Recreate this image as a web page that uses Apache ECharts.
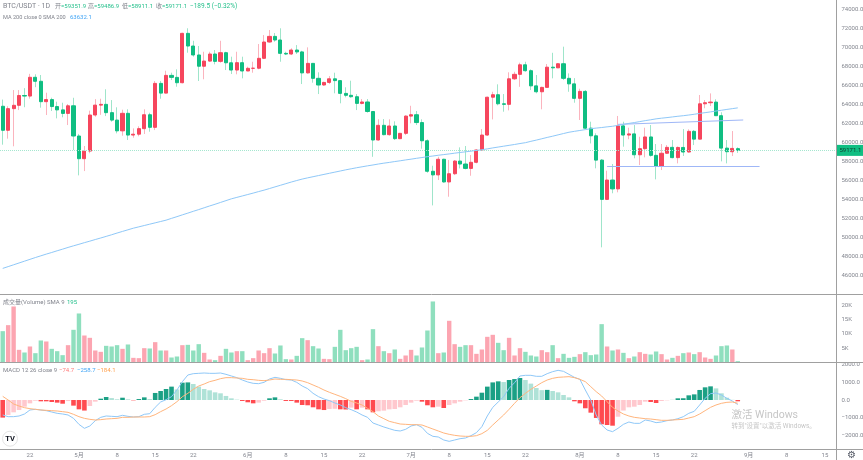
<!DOCTYPE html>
<html>
<head>
<meta charset="utf-8">
<title>BTC/USDT 1D</title>
<script src="https://cdn.jsdelivr.net/npm/echarts@6/dist/echarts.min.js"></script>
<style>
html, body { margin: 0; padding: 0; background: #fff; }
#main { width: 863px; height: 460px; filter: blur(0.35px); }
</style>
</head>
<body>
<div id="main"></div>
<script>
// days on the time axis, first of a month carries the month name
var categories = [
	'17','18','19','20','21','22','23','24','25','26','27','28','29','30',
	'5月','2','3','4','5','6','7','8','9','10','11','12','13','14','15','16','17','18','19','20','21','22','23','24','25','26','27','28','29','30','31',
	'6月','2','3','4','5','6','7','8','9','10','11','12','13','14','15','16','17','18','19','20','21','22','23','24','25','26','27','28','29','30',
	'7月','2','3','4','5','6','7','8','9','10','11','12','13','14','15','16','17','18','19','20','21','22','23','24','25','26','27','28','29','30','31',
	'8月','2','3','4','5','6','7','8','9','10','11','12','13','14','15','16','17','18','19','20','21','22','23','24','25','26','27','28','29','30','31',
	'9月','2','3','4','5','6','7','8','9','10','11','12','13','14','15','16','17'
];
var timeTicks = ['8', '15', '22', '5月', '6月', '7月', '8月', '9月'];

var opens = [
	63800,61280,63550,63900,64930,64870,66840,66420,64280,64500,
	63770,63420,63050,63850,60680,58300,59100,62880,63920,64000,
	63130,62350,61220,63060,60780,60870,61450,62910,61590,66200,
	65180,67040,66830,66270,71450,70120,69180,68000,68540,69280,
	68510,69420,68360,67600,68370,67500,67780,67790,68830,70540,
	71130,70750,69350,69280,69700,69500,67300,68300,66730,66030,
	66300,66680,66490,65150,64950,64800,64100,64250,63250,60260,
	61800,60820,61730,60400,60960,62770,62910,62090,60180,56980,
	56600,58240,55860,56720,58050,57740,57280,57920,59210,60780,
	64750,65010,64060,64000,66680,67150,68150,67530,65940,65320,
	65780,67900,67830,68260,66730,66150,64630,65360,61500,60700,
	58150,54030,56060,55130,61740,60780,60900,58710,59350,60580,
	58650,57530,58870,59490,58410,59480,59000,61170,60350,64060,
	64170,64240,62810,59410,59030,59351.9
];
var closes = [
	61280,63550,63900,64930,64870,66840,66420,64280,64500,63770,
	63420,63050,63850,60680,58300,59100,62880,63920,64000,63130,
	62350,61220,63060,60780,60870,61450,62910,61590,66200,65180,
	67040,66830,66270,71450,70120,69180,68000,68540,69280,68510,
	69420,68360,67600,68370,67500,67780,67790,68830,70540,71130,
	70750,69350,69280,69700,69500,67300,68300,66730,66030,66300,
	66680,66490,65150,64950,64800,64100,64250,63250,60260,61800,
	60820,61730,60400,60960,62770,62910,62090,60180,56980,56600,
	58240,55860,56720,58050,57740,57280,57920,59210,60780,64750,
	65010,64060,64000,66680,67150,68150,67530,65940,65320,65780,
	67900,67830,68260,66730,66150,64630,65360,61500,60700,58150,
	54030,56060,55130,61740,60780,60900,58710,59350,60580,58650,
	57530,58870,59490,58410,59480,59000,61170,60350,64060,64170,
	64240,62810,59410,59030,59380,59171.1
];
var lows = [
	59770,60400,59600,63400,63700,64600,65800,63650,62880,63300,
	62530,62640,61830,59210,56550,57000,58870,62700,62900,62770,
	62180,60960,60710,60260,60500,60650,60890,61130,61300,64590,
	65160,66550,65850,66200,69420,69000,66450,66630,68470,68200,
	68370,67600,67180,67150,66730,67490,67320,67680,68750,70460,
	70570,68470,69170,69170,69280,66130,67230,66270,65080,65950,
	66130,65160,64110,64740,64690,63400,64000,63120,58500,60190,
	60750,60710,60260,60350,60780,62010,61830,59350,56820,53400,
	56060,55780,54310,56580,57280,57180,56510,57810,59160,60710,
	62420,63900,63230,63370,66550,65840,67420,65500,65160,63480,
	65780,66730,67810,66550,65320,64170,62360,61380,59900,57290,
	49000,53960,54670,54770,59560,60340,58340,57630,58440,58510,
	56130,57110,58790,58340,57810,58580,58930,59730,60330,63590,
	63820,62780,58020,57810,58580,58911.1
];
var highs = [
	64500,63800,65500,65500,65700,67200,67150,67080,65220,64700,
	64280,64170,64030,64690,60900,59630,63340,64550,64590,65580,
	64450,63690,63440,63480,61480,61700,63480,63120,66450,66450,
	67530,67320,67670,71510,71980,70670,70120,69520,69520,69700,
	70670,69520,69000,69520,69000,67950,68470,70330,71270,71800,
	71480,71980,69520,69880,70220,69620,69980,68340,67360,66380,
	66970,67320,66550,65790,66480,65080,64560,64560,63290,62430,
	62460,62430,62220,61000,62850,63850,63300,62430,60330,57560,
	58500,58300,58160,58160,59490,59630,58680,59280,61410,64800,
	65320,66100,65080,67360,67420,68370,68470,67670,67080,65850,
	68230,69410,68300,70050,67250,66750,65640,65500,62180,60960,
	58260,57040,57740,62780,62180,61550,61830,60600,61550,61830,
	59840,59840,59730,60260,59580,61410,61380,61300,64980,64450,
	65150,64530,63170,60260,61200,59486.9
];
var ma200 = [
	46790,46980,47170,47360,47550,47740,47930,48110,48290,48460,
	48640,48810,48990,49160,49320,49490,49650,49820,49980,50150,
	50320,50500,50670,50840,51010,51150,51290,51430,51570,51710,
	51850,52040,52220,52410,52590,52780,52960,53150,53340,53520,
	53710,53900,54090,54240,54390,54540,54690,54850,55000,55170,
	55340,55510,55680,55850,56010,56160,56290,56410,56530,56650,
	56770,56890,57010,57130,57240,57350,57450,57550,57640,57740,
	57830,57910,58000,58080,58170,58250,58340,58420,58510,58580,
	58660,58730,58800,58880,58950,59020,59090,59170,59240,59330,
	59430,59520,59610,59700,59790,59890,59980,60120,60250,60390,
	60530,60660,60800,60940,61075,61170,61260,61350,61445,61510,
	61570,61640,61700,61800,61900,62000,62090,62190,62290,62380,
	62480,62550,62610,62680,62750,62810,62880,62960,63050,63130,
	63210,63300,63380,63470,63550,63632.1
];
var volumes = [
	10960,13060,19590,4430,3500,5600,3260,7700,7350,4780,
	3960,2570,6060,11430,17140,9440,8630,4200,3730,5830,
	5600,6060,4780,6300,1630,1520,5010,4900,7110,4200,
	4200,1750,2100,6060,6180,4200,6410,3380,1050,820,
	2330,4780,3500,3960,3960,820,1520,4200,3260,5010,
	3150,5950,1170,1050,2330,8510,7810,5710,4900,1280,
	1170,5480,11430,4310,5010,5480,820,1050,11660,5710,
	3960,3260,4550,1280,2450,4430,2450,5250,11190,21340,
	3260,3500,14580,6410,5480,6060,6060,3030,4550,8980,
	9680,6880,4310,8630,2450,5010,3730,2450,2100,4310,
	3610,6060,1520,3030,1630,1980,2920,3610,2570,2800,
	13410,5600,4200,4550,3380,1520,2100,3610,3030,2800,
	3850,2920,1050,1630,2330,3260,3500,2920,3610,1750,
	1280,2450,5710,5950,4550,470
];
var macdHist = [
	-1000,-850,-700,-570,-380,-190,-40,-75,-75,-115,
	-150,-210,-60,-320,-530,-600,-340,-95,75,170,
	110,40,130,40,-20,55,150,55,400,510,
	625,760,600,985,1000,910,760,625,550,435,
	380,230,95,20,-55,-130,-190,-150,-40,95,
	150,40,-55,-55,-150,-285,-300,-415,-530,-570,
	-510,-500,-530,-540,-435,-530,-435,-530,-700,-640,
	-605,-530,-510,-415,-285,-150,-40,-95,-300,-415,
	-380,-455,-285,-190,-95,-20,55,190,415,760,
	1000,1060,1020,1135,1190,1250,1135,930,680,560,
	575,510,435,285,150,-75,-190,-470,-720,-1020,
	-1380,-1420,-1460,-950,-600,-415,-380,-285,-95,-115,
	-170,-55,-20,5,95,100,265,320,570,720,
	775,660,380,130,10,-74.7
];
var macdLine = [
	-852,-947,-947,-909,-795,-568,-530,-568,-606,-682,
	-758,-795,-852,-1042,-1383,-1610,-1477,-1174,-985,-909,
	-928,-947,-871,-928,-966,-947,-814,-777,-417,-114,
	19,189,568,1042,1420,1496,1515,1534,1515,1515,
	1534,1458,1364,1269,1136,1023,947,928,1004,1193,
	1288,1231,1155,1136,1004,795,644,379,189,57,
	-38,-170,-284,-436,-549,-682,-852,-985,-1307,-1420,
	-1534,-1629,-1724,-1761,-1667,-1477,-1402,-1553,-1894,-2064,
	-2102,-2273,-2349,-2273,-2197,-2159,-2027,-1856,-1515,-909,
	-417,-114,189,663,985,1364,1402,1402,1345,1345,
	1496,1610,1686,1629,1458,1288,1174,568,0,-852,
	-1420,-1705,-1799,-1610,-1383,-1250,-1326,-1326,-1136,-1193,
	-1288,-1250,-1174,-1136,-1061,-947,-758,-644,-284,95,
	360,398,284,95,-57,-258.7
];
var macdSignal = [
	208,0,-227,-341,-436,-492,-530,-568,-587,-606,
	-625,-663,-701,-814,-947,-1042,-1099,-1136,-1117,-1080,
	-1061,-1042,-985,-985,-966,-966,-966,-947,-833,-663,
	-511,-322,-95,189,379,606,795,909,1042,1117,
	1212,1269,1269,1250,1231,1174,1155,1117,1099,1136,
	1193,1174,1174,1155,1136,1080,985,852,720,568,
	436,322,208,76,-76,-170,-284,-474,-663,-909,
	-1061,-1212,-1288,-1364,-1383,-1402,-1402,-1420,-1534,-1648,
	-1761,-1875,-1951,-2008,-2046,-2064,-2064,-2027,-1913,-1724,
	-1420,-1136,-852,-530,-189,133,379,606,795,985,
	1136,1231,1288,1307,1326,1269,1174,1042,758,474,
	227,-95,-417,-625,-795,-909,-985,-1023,-1061,-1080,
	-1117,-1155,-1155,-1136,-1117,-1099,-1023,-947,-795,-606,
	-417,-284,-189,-133,-114,-184.1
];
var lastPrice = 59171.1;
// drawn lines on the price pane: [category index, price] pairs
var trendUpper = [[113, 61900], [136, 62360]];
var trendLower = [[111, 57530], [139, 57530]];

var upColor = '#f6465d', downColor = '#10be82';
var upWick = '#fbb4be', downWick = '#9fe5ca';
var upVol = '#fca5b1', downVol = '#8fdfbe';
var axisText = '#83868f', lineColor = '#a0a0a0', fontName = 'Roboto, "Noto Sans CJK SC", sans-serif';

var chart = echarts.init(document.getElementById('main'));

function isUp(i) {
	return closes[i] >= opens[i];
}

function histColor(p) {
	var v = p.value, prev = p.dataIndex > 0 ? macdHist[p.dataIndex - 1] : v + 1;
	if (v >= 0) {
		return v >= prev ? '#1ba085' : '#afe2d7';
	}
	return v <= prev ? '#ff4a4f' : '#ffc8ce';
}

function xAxisFor(gridIndex, showLabels) {
	return {
		type: 'category',
		gridIndex: gridIndex,
		data: categories,
		boundaryGap: true,
		offset: showLabels ? -3.8 : 0,
		axisLine: { show: false },
		axisTick: { show: false },
		splitLine: { show: false },
		axisLabel: {
			show: showLabels,
			color: axisText,
			fontSize: 6,
			fontFamily: fontName,
			margin: 3.5,
			hideOverlap: false,
			interval: function(i, v) {
				return timeTicks.indexOf(v) >= 0;
			}
		}
	};
}

function yAxisFor(gridIndex, min, max, interval, formatter) {
	return {
		type: 'value',
		gridIndex: gridIndex,
		position: 'right',
		scale: true,
		min: min,
		max: max,
		interval: interval,
		axisLine: { show: false },
		axisTick: { show: false },
		splitLine: { show: false },
		axisLabel: {
			color: axisText,
			fontSize: 6,
			fontFamily: fontName,
			margin: 3,
			hideOverlap: false,
			formatter: function(v) {
				// the ends of the scale stay unlabelled
				return v === min || v === max ? '' : formatter(v);
			}
		}
	};
}

function priceLabel(v) {
	return (v < 0 ? '\u2212' : '') + Math.abs(v).toFixed(1);
}

function txt(x, y, text, color, size) {
	return {
		type: 'text',
		x: x,
		y: y,
		z: 20,
		silent: true,
		style: {
			text: text,
			fill: color,
			font: (size || 6) + 'px ' + fontName,
			verticalAlign: 'middle'
		}
	};
}

function frame(x1, y1, x2, y2) {
	return {
		type: 'line',
		z: 15,
		silent: true,
		shape: { x1: x1, y1: y1, x2: x2, y2: y2 },
		style: { stroke: lineColor, lineWidth: 1 }
	};
}

var greenText = '#26c08c', greyText = '#80838c', blueText = '#42a5f5';

var graphics = [
	frame(0, 294.5, 863, 294.5),
	frame(0, 362.5, 863, 362.5),
	frame(0, 449.5, 863, 449.5),
	frame(836.5, 0, 836.5, 460),

	txt(3, 6.7, 'BTC/USDT · 1D', greyText, 7),
	txt(55, 6.7, '开', greyText), txt(61, 6.7, '=59351.9', greenText),
	txt(88, 6.7, '高', greyText), txt(94, 6.7, '=59486.9', greenText),
	txt(122, 6.7, '低', greyText), txt(128, 6.7, '=58911.1', greenText),
	txt(156, 6.7, '收', greyText), txt(162, 6.7, '=59171.1', greenText),
	txt(190, 6.7, '\u2212189.5 (\u22120.32%)', greenText, 6.5),
	txt(3, 17.5, 'MA 200 close 0 SMA 200', greyText, 5.6),
	txt(70, 17.5, '63632.1', blueText),

	txt(3, 302.3, '成交量(Volume) SMA 9', greyText),
	txt(67, 302.3, '195', greenText),

	txt(3, 370.3, 'MACD 12 26 close 9', greyText),
	txt(59, 370.3, '\u221274.7', '#ff7b7b'),
	txt(77, 370.3, '\u2212258.7', blueText),
	txt(97, 370.3, '\u2212184.1', '#ffa14d'),

	{
		type: 'circle',
		z: 18,
		silent: true,
		shape: { cx: 10, cy: 438.7, r: 7.5 },
		style: { fill: '#fff', stroke: '#e4e4e4', lineWidth: 1 }
	},
	{
		type: 'text',
		x: 10,
		y: 438.7,
		z: 20,
		silent: true,
		style: {
			text: 'TV',
			fill: '#131722',
			font: 'bold 7.5px ' + fontName,
			align: 'center',
			verticalAlign: 'middle'
		}
	},

	txt(731.5, 415.8, '激活 Windows', '#c6c6c6', 10.5),
	txt(731.5, 426.8, '转到"设置"以激活 Windows。', '#c6c6c6', 6.5),

	{
		type: 'text',
		x: 851.7,
		y: 455.2,
		z: 20,
		silent: true,
		style: {
			text: '\u2699',
			fill: '#555a66',
			font: '10px "DejaVu Sans"',
			align: 'center',
			verticalAlign: 'middle'
		}
	}
];

var option = {
	animation: false,
	backgroundColor: '#fff',
	textStyle: { fontFamily: fontName },
	grid: [
		{ left: 0, top: -0.5, width: 838.5, height: 295.5, outerBoundsMode: 'none' },
		{ left: 0, top: 295, width: 838.5, height: 67.5, outerBoundsMode: 'none' },
		{ left: 0, top: 347.2, width: 838.5, height: 105.6, outerBoundsMode: 'none' }
	],
	xAxis: [xAxisFor(0, false), xAxisFor(1, false), xAxisFor(2, true)],
	yAxis: [
		yAxisFor(0, 44000, 75000, 2000, function(v) { return v.toFixed(1); }),
		yAxisFor(1, 0, 23600, 5000, function(v) { return (v / 1000) + 'K'; }),
		yAxisFor(2, -3000, 3000, 1000, priceLabel)
	],
	graphic: graphics,
	series: [
		{
			name: 'wick',
			type: 'candlestick',
			xAxisIndex: 0,
			yAxisIndex: 0,
			barWidth: 1,
			silent: true,
			itemStyle: { color: upWick, color0: downWick, borderColor: upWick, borderColor0: downWick, borderWidth: 1 },
			data: opens.map(function(o, i) {
				return [o, closes[i], lows[i], highs[i]];
			})
		},
		{
			name: 'BTC/USDT',
			type: 'candlestick',
			xAxisIndex: 0,
			yAxisIndex: 0,
			barWidth: 3.6,
			silent: true,
			itemStyle: { color: upColor, color0: downColor, borderColor: upColor, borderColor0: downColor, borderWidth: 1 },
			// body only, the wick comes from the paler series underneath
			data: opens.map(function(o, i) {
				return [o, closes[i], Math.min(o, closes[i]), Math.max(o, closes[i])];
			}),
			markLine: {
				silent: true,
				symbol: 'none',
				animation: false,
				lineStyle: { color: '#a5e6cf', type: 'dotted', width: 1 },
				label: {
					show: true,
					position: 'end',
					distance: -2,
					formatter: lastPrice.toFixed(1),
					color: '#0d3b2c',
					fontSize: 6,
					fontFamily: fontName,
					backgroundColor: downColor,
					padding: [2.5, 3, 2.5, 3]
				},
				data: [{ yAxis: lastPrice }]
			}
		},
		{
			name: 'MA 200',
			type: 'line',
			xAxisIndex: 0,
			yAxisIndex: 0,
			showSymbol: false,
			silent: true,
			lineStyle: { color: '#8fc8f8', width: 1 },
			data: ma200,
			z: 5
		},
		{
			name: 'trend',
			type: 'line',
			xAxisIndex: 0,
			yAxisIndex: 0,
			showSymbol: false,
			silent: true,
			data: [],
			markLine: {
				silent: true,
				symbol: 'none',
				animation: false,
				label: { show: false },
				lineStyle: { color: '#9fb7f7', type: 'solid', width: 1 },
				data: [
					[{ coord: trendUpper[0] }, { coord: trendUpper[1] }],
					[{ coord: trendLower[0] }, { coord: trendLower[1] }]
				]
			},
			z: 6
		},
		{
			name: '成交量',
			type: 'bar',
			xAxisIndex: 1,
			yAxisIndex: 1,
			barWidth: 4.4,
			silent: true,
			itemStyle: {
				color: function(p) {
					return isUp(p.dataIndex) ? upVol : downVol;
				}
			},
			data: volumes
		},
		{
			name: 'hist',
			type: 'bar',
			xAxisIndex: 2,
			yAxisIndex: 2,
			barWidth: 4.6,
			silent: true,
			itemStyle: { color: histColor },
			data: macdHist
		},
		{
			name: 'MACD',
			type: 'line',
			xAxisIndex: 2,
			yAxisIndex: 2,
			showSymbol: false,
			silent: true,
			lineStyle: { color: '#8fc8f8', width: 1 },
			data: macdLine,
			z: 5
		},
		{
			name: 'Signal',
			type: 'line',
			xAxisIndex: 2,
			yAxisIndex: 2,
			showSymbol: false,
			silent: true,
			lineStyle: { color: '#ffb57d', width: 1 },
			data: macdSignal,
			z: 5
		}
	]
};

chart.setOption(option);
</script>
</body>
</html>
